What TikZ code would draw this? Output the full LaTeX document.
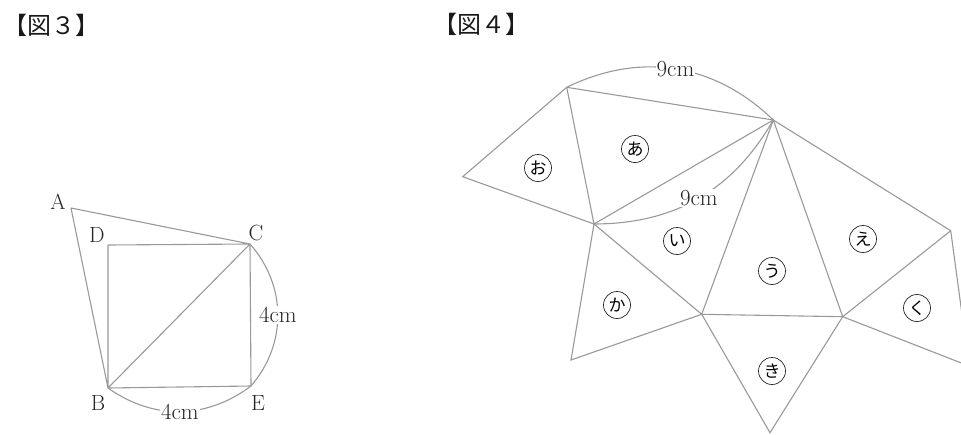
\documentclass[tikz,border=0pt]{standalone}
\usepackage{fontspec}
\newfontfamily\cjk{Noto Sans CJK JP}
\begin{document}
\begin{tikzpicture}[x=1pt,y=-1pt]
    \tikzstyle{side}=[draw=black!40, line width=1.1pt]
    \tikzstyle{vlabel}=[text=black!85, font=\fontsize{22}{22}\selectfont]
    \tikzstyle{len}=[fill=white, inner sep=1pt, text=black!85, font=\fontsize{23}{23}\selectfont]
    \tikzstyle{kana}=[circle, draw=black!85, line width=0.7pt, minimum size=27pt, inner sep=0pt, font=\cjk\fontsize{17}{17}\selectfont]
    \tikzstyle{heading}=[text=black!90, font=\cjk\fontsize{24}{24}\selectfont]

    \useasboundingbox (0,0) rectangle (961,434);
    \clip (0,0) rectangle (961,434);

    \node[heading] (t3) at (52,25)  {【図３】};
    \node[heading] (t4) at (481,24) {【図４】};

    % figure 3
    \coordinate (A) at (71,208);
    \coordinate (C) at (250,244);
    \coordinate (D) at (108,245);
    \coordinate (B) at (108,388);
    \coordinate (E) at (251,386);

    \draw[side] (A) -- (C)  (A) -- (B)  (D) -- (C)  (D) -- (B)
                (B) -- (E)  (E) -- (C)  (B) -- (C);

    \draw[side] (C) to[bend left=41] node[len] (ce) {4cm} (E);
    \draw[side] (B) to[bend right=36] node[len] (be) {4cm} (E);

    \node[vlabel] (la) at (58,202)  {A};
    \node[vlabel] (ld) at (97,235)  {D};
    \node[vlabel] (lc) at (256,233) {C};
    \node[vlabel] (lb) at (98,403)  {B};
    \node[vlabel] (le) at (258,403) {E};

    % figure 4
    \coordinate (tl) at (566.7,87.3);
    \coordinate (ap) at (773.3,120);
    \coordinate (lf) at (462.7,176.7);
    \coordinate (md) at (594,224);
    \coordinate (b1) at (701.7,314.3);
    \coordinate (b2) at (842.7,316.7);
    \coordinate (rt) at (950.7,230.7);
    \coordinate (kl) at (571,360);
    \coordinate (kb) at (770,432.7);
    \coordinate (kr) at (969,366);

    \draw[side] (lf) -- (tl) -- (ap) -- (rt) -- (kr) -- (b2) -- (kb) -- (b1) -- (kl) -- (md) -- cycle;
    \draw[side] (tl) -- (md) -- (ap)  (md) -- (b1) -- (ap) -- (b2) -- (rt)  (b1) -- (b2);

    \draw[side] (tl) to[bend left=35] node[len] (top) {9cm} (ap);
    \draw[side] (md) to[bend right=30] node[len] (mid) {9cm} (ap);

    \node[kana] (ka) at (635,149) {あ};
    \node[kana] (ko) at (538,168) {お};
    \node[kana] (ki) at (677,241) {い};
    \node[kana] (ku) at (772,271) {う};
    \node[kana] (ke) at (863,239) {え};
    \node[kana] (kk) at (617,305) {か};
    \node[kana] (kg) at (772,371) {き};
    \node[kana] (kq) at (917,308) {く};

\end{tikzpicture}
\end{document}
